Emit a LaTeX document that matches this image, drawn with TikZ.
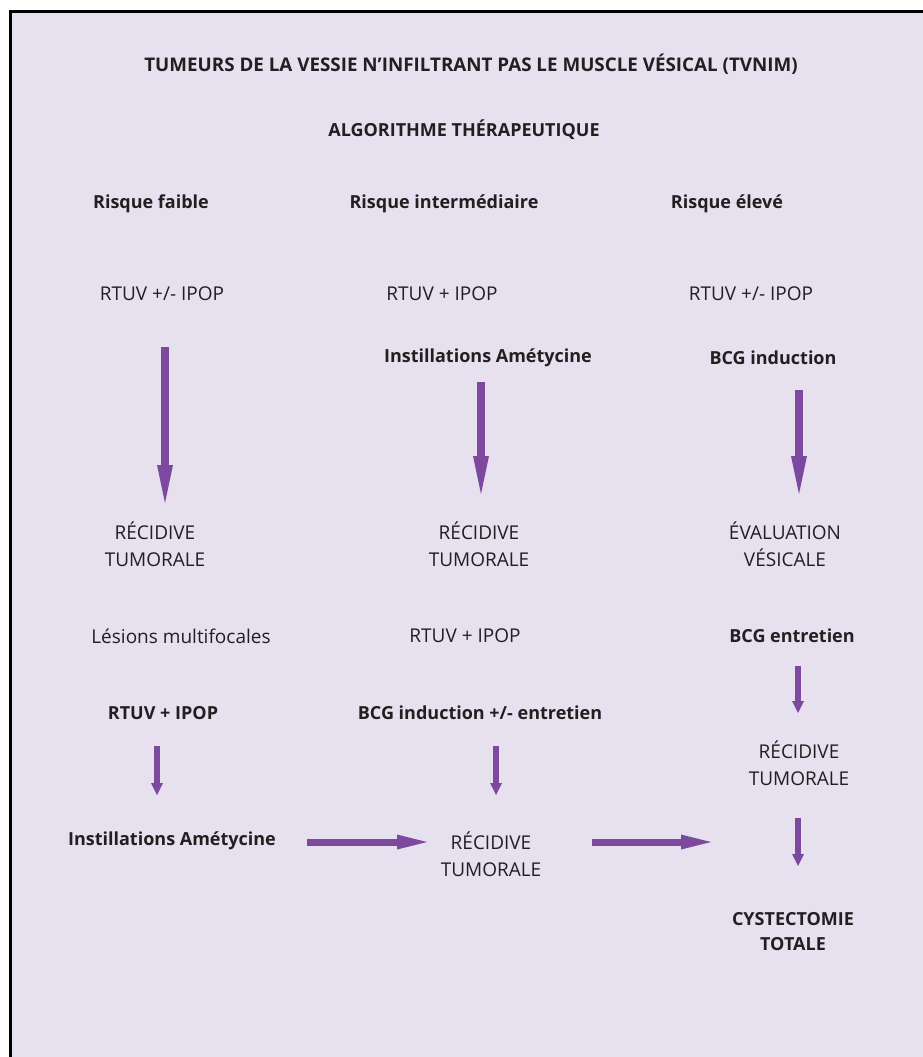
\documentclass[tikz,border=0pt]{standalone}
\usepackage{fontspec}
\setmainfont{Open Sans}
\usetikzlibrary{arrows.meta}
\definecolor{bgfill}{RGB}{230,224,239}
\definecolor{arrowpurple}{RGB}{124,73,158}
\definecolor{txt}{RGB}{35,31,32}
\newcommand{\fs}{\fontsize{19}{27.5}\selectfont}
\newcommand{\fb}{\fontsize{18}{25}\selectfont\bfseries}
\newcommand{\ft}{\fontsize{18.8}{25}\selectfont\bfseries}
\tikzset{
  lab/.style={text=txt, font=\fs, inner sep=0pt, align=center},
  blab/.style={lab, font=\fb},
  tlab/.style={lab, font=\ft},
  bigarrow/.style={draw=arrowpurple, line width=8pt, -{Triangle[length=38pt,width=16pt,line width=0pt]}},
  smallarrow/.style={draw=arrowpurple, line width=6pt, -{Triangle[length=12pt,width=12pt,line width=0pt]}},
  harrow/.style={draw=arrowpurple, line width=7pt, -{Triangle[length=30pt,width=15pt,line width=0pt]}},
}
\begin{document}
\begin{tikzpicture}[x=1pt,y=-1pt]
\useasboundingbox (0,0) rectangle (923,1057);
\fill[white] (0,0) rectangle (923,1057);
\fill[bgfill] (11,12) rectangle (923,1057);
\draw[line width=3pt] (10.5,1057) -- (10.5,11.5) -- (923,11.5);

\node[tlab] (title) at (471,64) {TUMEURS DE LA VESSIE N’INFILTRANT PAS LE MUSCLE VÉSICAL (TVNIM)};
\node[blab] (algo) at (464,130) {ALGORITHME THÉRAPEUTIQUE};
\node[blab] (rf) at (151,204) {Risque faible};
\node[blab] (ri) at (444,204) {Risque intermédiaire};
\node[blab] (re) at (727,204) {Risque élevé};
\node[lab] (t1) at (162,294) {RTUV +/- IPOP};
\node[lab] (t2) at (442,294) {RTUV + IPOP};
\node[lab] (t3) at (751,294) {RTUV +/- IPOP};
\node[blab] (i2) at (488,358) {Instillations Amétycine};
\node[blab] (b3) at (773,358) {BCG induction};
\node[lab] (r1) at (155,544) {RÉCIDIVE\\TUMORALE};
\node[lab] (r2) at (479,544) {RÉCIDIVE\\TUMORALE};
\node[lab] (ev) at (785,544) {ÉVALUATION\\VÉSICALE};
\node[lab] (lm) at (181,636) {Lésions multifocales};
\node[lab] (t2b) at (465,636) {RTUV + IPOP};
\node[blab] (be) at (792,636) {BCG entretien};
\node[blab] (t1b) at (163,713) {RTUV + IPOP};
\node[blab] (bi) at (480,713) {BCG induction +/- entretien};
\node[lab] (r3) at (799,763) {RÉCIDIVE\\TUMORALE};
\node[blab] (i1) at (172,841) {Instillations Amétycine};
\node[lab] (r4) at (491,854) {RÉCIDIVE\\TUMORALE};
\node[blab] (cy) at (793,932) {CYSTECTOMIE\\TOTALE};

\coordinate (a1s) at (165,347); \coordinate (a1e) at (165,503);
\coordinate (a2s) at (481,382); \coordinate (a2e) at (481,494);
\coordinate (a3s) at (799,390); \coordinate (a3e) at (799,494);
\coordinate (a4s) at (157,746); \coordinate (a4e) at (157,795);
\coordinate (a5s) at (496,746); \coordinate (a5e) at (496,795);
\coordinate (a6s) at (798,666); \coordinate (a6e) at (798,713);
\coordinate (a7s) at (798,818); \coordinate (a7e) at (798,866);
\coordinate (h1s) at (307,842); \coordinate (h1e) at (427,842);
\coordinate (h2s) at (592,842); \coordinate (h2e) at (711,842);

\draw[bigarrow] (a1s) -- (a1e);
\draw[bigarrow] (a2s) -- (a2e);
\draw[bigarrow] (a3s) -- (a3e);
\draw[smallarrow] (a4s) -- (a4e);
\draw[smallarrow] (a5s) -- (a5e);
\draw[smallarrow] (a6s) -- (a6e);
\draw[smallarrow] (a7s) -- (a7e);
\draw[harrow] (h1s) -- (h1e);
\draw[harrow] (h2s) -- (h2e);
\end{tikzpicture}
\end{document}
